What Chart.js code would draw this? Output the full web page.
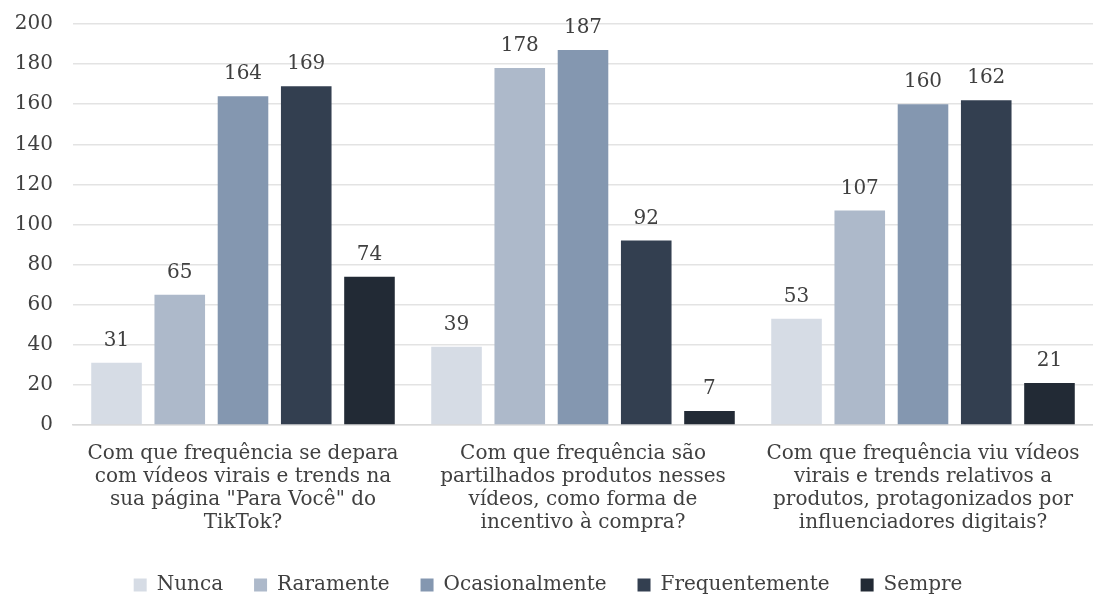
<!DOCTYPE html>
<html>
<head>
<meta charset="utf-8">
<script src="https://cdn.jsdelivr.net/npm/chart.js@4"></script>
<style>
  html, body { margin: 0; padding: 0; background: #fff; }
  #wrap { width: 1093px; height: 599px; }
</style>
</head>
<body>
<div id="wrap"><canvas id="chart"></canvas></div>
<script>
const questions = [
  ["Com que frequência se depara", "com vídeos virais e trends na", "sua página \"Para Você\" do", "TikTok?"],
  ["Com que frequência são", "partilhados produtos nesses", "vídeos, como forma de", "incentivo à compra?"],
  ["Com que frequência viu vídeos", "virais e trends relativos a", "produtos, protagonizados por", "influenciadores digitais?"]
];
const answers = ["Nunca", "Raramente", "Ocasionalmente", "Frequentemente", "Sempre"];
const nunca = [31, 39, 53];
const raramente = [65, 178, 107];
const ocasionalmente = [164, 187, 160];
const frequentemente = [169, 92, 162];
const sempre = [74, 7, 21];
const colors = ["#d6dce5", "#adb9ca", "#8497b0", "#333f50", "#222a35"];

const FONT = "'DejaVu Serif', 'Liberation Serif', serif";
const TEXT = "#404040";

// value labels on top of each bar
const barLabels = {
  id: "barLabels",
  afterDatasetsDraw(chart) {
    const ctx = chart.ctx;
    ctx.save();
    ctx.font = "20px " + FONT;
    ctx.fillStyle = TEXT;
    ctx.textAlign = "center";
    ctx.textBaseline = "bottom";
    chart.data.datasets.forEach((ds, i) => {
      chart.getDatasetMeta(i).data.forEach((bar, j) => {
        ctx.fillText(ds.data[j], bar.x, bar.y - 12);
      });
    });
    ctx.restore();
  }
};

const series = [nunca, raramente, ocasionalmente, frequentemente, sempre];

new Chart(document.getElementById("chart"), {
  type: "bar",
  data: {
    labels: questions,
    datasets: answers.map((name, i) => ({
      label: name,
      data: series[i],
      backgroundColor: colors[i],
      categoryPercentage: 0.93,
      barPercentage: 0.8
    }))
  },
  options: {
    responsive: true,
    maintainAspectRatio: false,
    animation: false,
    layout: { padding: { top: 0, right: -3, left: 0, bottom: -6 } },
    scales: {
      x: {
        grid: { display: false },
        border: { color: "#d9d9d9", width: 1.5 },
        ticks: {
          color: TEXT,
          font: { family: FONT, size: 20, lineHeight: 1.15 },
          maxRotation: 0,
          autoSkip: false,
          padding: 9
        },
        afterFit(scale) { scale.height = 119; }
      },
      y: {
        min: 0,
        max: 200,
        ticks: {
          stepSize: 20,
          color: TEXT,
          font: { family: FONT, size: 20 },
          padding: 20
        },
        grid: { color: "#e3e3e3", lineWidth: 1.5, drawTicks: false },
        border: { display: false },
        afterFit(scale) {
          scale.width = 73;
          scale.paddingTop = 24;
          scale.paddingBottom = 12;
        }
      }
    },
    plugins: {
      legend: {
        position: "bottom",
        labels: {
          color: TEXT,
          font: { family: FONT, size: 20 },
          boxWidth: 13,
          boxHeight: 13,
          padding: 31
        }
      },
      tooltip: { enabled: false }
    }
  },
  plugins: [barLabels]
});
</script>
</body>
</html>
